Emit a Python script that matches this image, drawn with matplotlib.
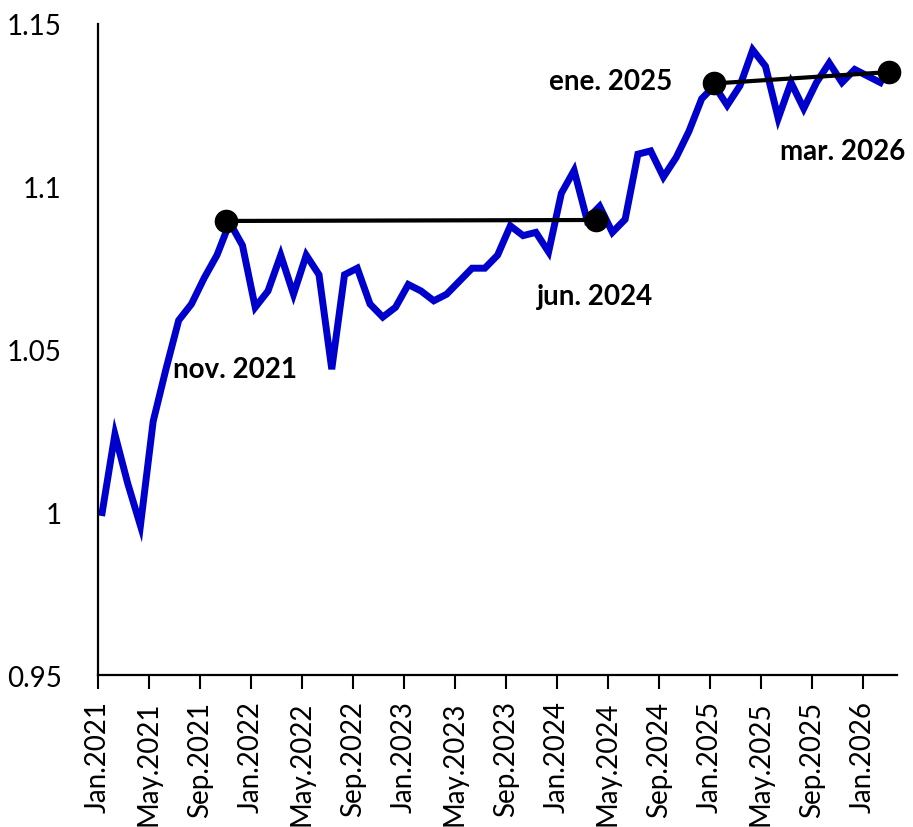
import numpy as np
import matplotlib.pyplot as plt

# monthly index, Jan.2021 -> Feb.2026
values = [1.000, 1.024, 1.009, 0.996, 1.028, 1.044, 1.059, 1.064, 1.072, 1.079,
          1.089, 1.082, 1.063, 1.068, 1.079, 1.067, 1.079, 1.073, 1.044, 1.073,
          1.075, 1.064, 1.060, 1.063, 1.070, 1.068, 1.065, 1.067, 1.071, 1.075,
          1.075, 1.079, 1.088, 1.085, 1.086, 1.080, 1.098, 1.105, 1.090, 1.094,
          1.086, 1.090, 1.110, 1.111, 1.103, 1.109, 1.117, 1.127, 1.131, 1.125,
          1.131, 1.142, 1.137, 1.121, 1.132, 1.124, 1.132, 1.138, 1.132, 1.136,
          1.134, 1.132]

tick_labels = ["Jan.2021", "May.2021", "Sep.2021", "Jan.2022", "May.2022", "Sep.2022",
               "Jan.2023", "May.2023", "Sep.2023", "Jan.2024", "May.2024", "Sep.2024",
               "Jan.2025", "May.2025", "Sep.2025", "Jan.2026"]

# highlighted points (month position, value, label)
mark_pos = [10.05, 39.1, 48.35, 62.05]
mark_val = [1.0895, 1.0898, 1.1317, 1.1352]
mark_txt = ["nov. 2021", "jun. 2024", "ene. 2025", "mar. 2026"]
# label offsets from the dot, in pixels
txt_off = [(9, -148), (-1, -76), (-104, 2), (-47, -79)]

plt.rcParams['font.family'] = ['Lato', 'DejaVu Sans']

fig = plt.figure(figsize=(9.13, 8.28), dpi=100)
ax = fig.add_axes([0.107, 0.183, 0.876, 0.787])

# series sits a little right of the month ticks in the original
x = np.arange(len(values)) + 0.35
ax.plot(x, values, color='#0000CC', lw=5, solid_joinstyle='miter', clip_on=False, zorder=2)

# reference segments between pairs of dots
ax.plot(mark_pos[0:2], mark_val[0:2], color='black', lw=3, zorder=3)
ax.plot(mark_pos[2:4], mark_val[2:4], color='black', lw=3, zorder=3)
ax.plot(mark_pos, mark_val, 'o', color='black', ms=16, zorder=4, clip_on=False)

for xi, yi, t, off in zip(mark_pos, mark_val, mark_txt, txt_off):
    ax.annotate(t, (xi, yi), xytext=off, textcoords='offset pixels',
                ha='center', va='center', fontsize=20, fontweight='bold')

ax.set_xlim(0, 62.7)
ax.set_ylim(0.95, 1.15)
ax.set_yticks([0.95, 1.0, 1.05, 1.1, 1.15])
ax.set_yticklabels(["0.95", "1", "1.05", "1.1", "1.15"])
ax.set_xticks(np.arange(0, 61, 4))
ax.set_xticklabels(tick_labels, rotation=90)

ax.tick_params(axis='y', length=0, pad=26, labelsize=20)
ax.tick_params(axis='x', length=10, width=1.5, direction='out', pad=8, labelsize=20)

for s in ['top', 'right']:
    ax.spines[s].set_visible(False)
for s in ['left', 'bottom']:
    ax.spines[s].set_linewidth(1.6)

fig.savefig("out.png", dpi=100)
